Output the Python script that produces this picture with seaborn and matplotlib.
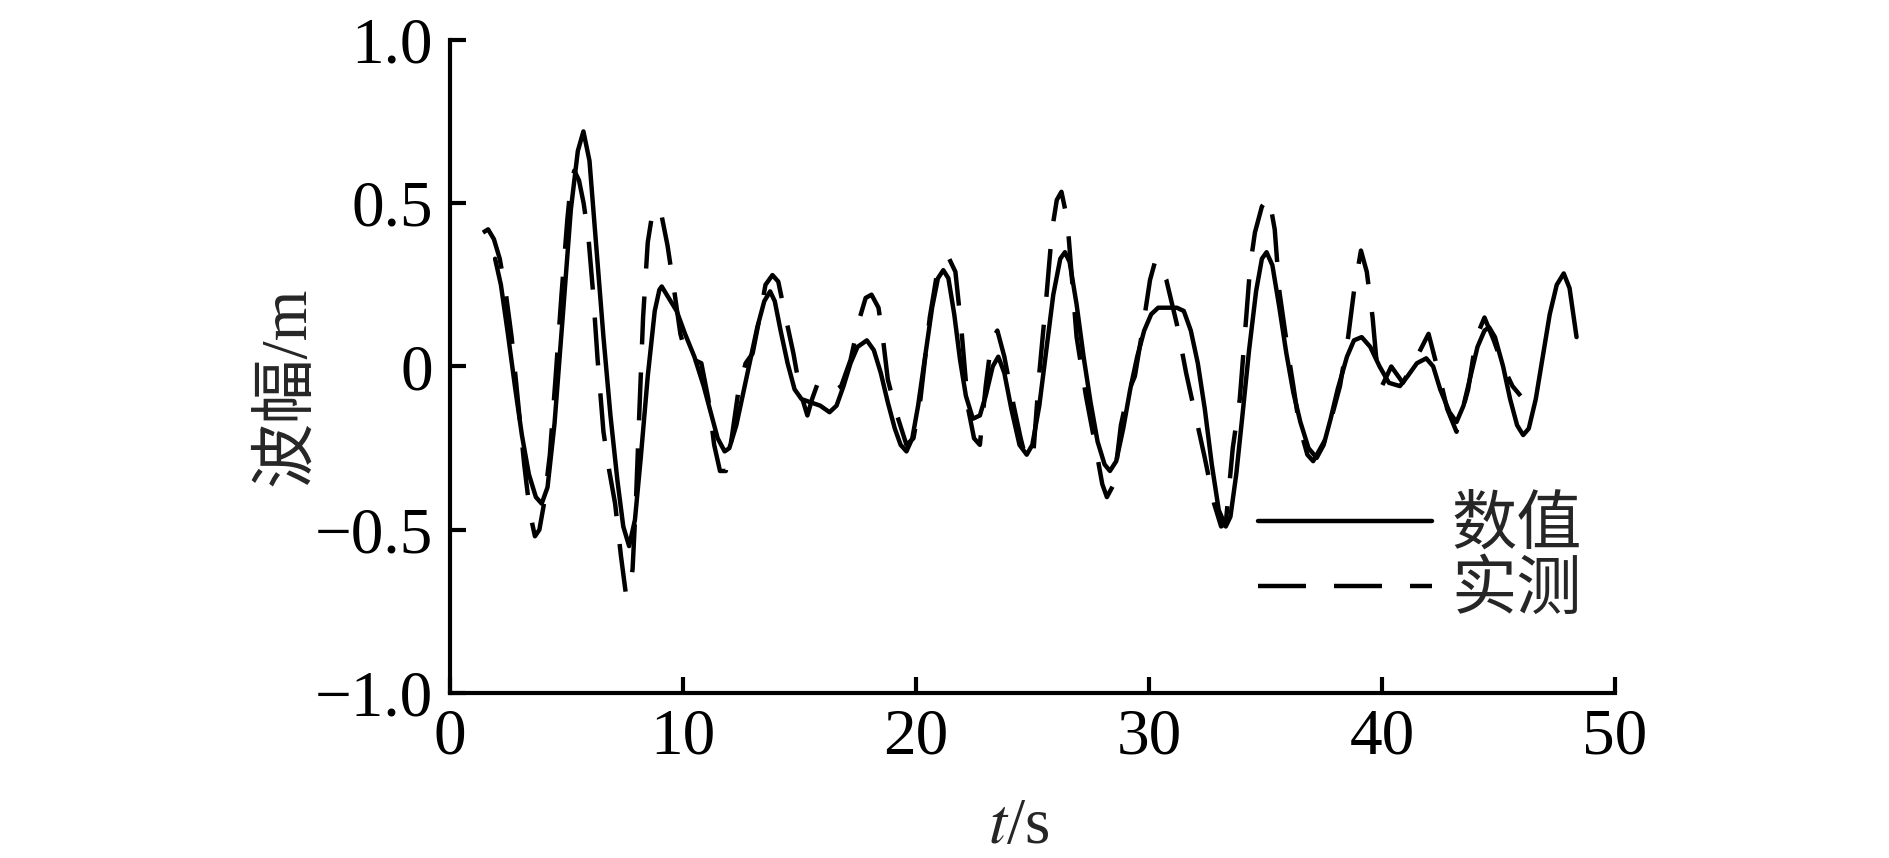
import matplotlib
matplotlib.use("Agg")
import matplotlib.pyplot as plt
import seaborn as sns
import pandas as pd
from matplotlib.lines import Line2D

# ---- data ----
num_t = [1.95, 2.2, 2.5, 2.8, 3.1, 3.4, 3.7, 3.95, 4.2, 4.5, 4.85, 5.2, 5.5, 5.74,
         6.0, 6.3, 6.6, 6.9, 7.2, 7.45, 7.7, 7.95, 8.2, 8.5, 8.8, 9.0, 9.1, 9.4, 9.74,
         10.1, 10.5, 10.9, 11.2, 11.5, 11.8, 12.0, 12.3, 12.6, 12.9, 13.2, 13.5, 13.75,
         13.95, 14.2, 14.5, 14.8, 15.1, 15.5, 15.9, 16.3, 16.6, 16.9, 17.2, 17.5, 17.9,
         18.2, 18.5, 18.8, 19.1, 19.35, 19.6, 19.85, 20.1, 20.4, 20.7, 20.95, 21.18,
         21.4, 21.65, 21.9, 22.15, 22.45, 22.75, 23.0, 23.3, 23.54, 23.8, 24.1, 24.45,
         24.76, 25.0, 25.3, 25.6, 25.9, 26.2, 26.4, 26.6, 26.9, 27.2, 27.5, 27.8, 28.1,
         28.33, 28.6, 28.9, 29.2, 29.5, 29.8, 30.1, 30.4, 30.8, 31.2, 31.5, 31.8, 32.1,
         32.4, 32.7, 33.0, 33.3, 33.5, 33.75, 34.0, 34.3, 34.6, 34.85, 35.05, 35.3, 35.6,
         35.9, 36.2, 36.5, 36.85, 37.2, 37.5, 37.8, 38.1, 38.5, 38.8, 39.13, 39.5, 39.9,
         40.3, 40.77, 41.1, 41.5, 41.9, 42.2, 42.5, 42.9, 43.2, 43.5, 43.8, 44.1, 44.4,
         44.6, 44.85, 45.2, 45.5, 45.8, 46.06, 46.3, 46.6, 46.9, 47.2, 47.5, 47.8, 48.05,
         48.35]
num_y = [0.33, 0.25, 0.10, -0.06, -0.21, -0.33, -0.40, -0.42, -0.37, -0.175, 0.15, 0.48, 0.66, 0.72,
         0.63, 0.36, 0.09, -0.15, -0.35, -0.49, -0.55, -0.47, -0.28, -0.03, 0.17, 0.235, 0.245, 0.21, 0.17,
         0.10, 0.03, -0.06, -0.14, -0.22, -0.26, -0.25, -0.18, -0.08, 0.02, 0.12, 0.20, 0.23,
         0.20, 0.11, 0.01, -0.07, -0.10, -0.11, -0.12, -0.14, -0.12, -0.06, 0.01, 0.06, 0.08,
         0.05, -0.02, -0.11, -0.19, -0.24, -0.26, -0.22, -0.12, 0.03, 0.18, 0.27, 0.295,
         0.27, 0.16, 0.02, -0.09, -0.16, -0.15, -0.09, 0.00, 0.03, -0.02, -0.13, -0.24,
         -0.27, -0.24, -0.12, 0.05, 0.22, 0.33, 0.35, 0.32, 0.19, 0.03, -0.11, -0.23, -0.30,
         -0.32, -0.29, -0.19, -0.07, 0.03, 0.11, 0.16, 0.18, 0.18, 0.18, 0.17, 0.11, 0.01,
         -0.13, -0.30, -0.44, -0.49, -0.46, -0.33, -0.16, 0.05, 0.23, 0.33, 0.35, 0.31, 0.18,
         0.04, -0.08, -0.17, -0.25, -0.28, -0.24, -0.16, -0.07, 0.03, 0.08, 0.09, 0.06, 0.00,
         -0.05, -0.06, -0.03, 0.01, 0.025, 0.0, -0.07, -0.14, -0.17, -0.12, -0.03, 0.06, 0.11,
         0.12, 0.09, 0.0, -0.10, -0.18, -0.21, -0.19, -0.10, 0.03, 0.16, 0.25, 0.285, 0.24,
         0.09]

mea_t = [1.43, 1.65, 1.9, 2.15, 2.4, 2.66, 2.95, 3.2, 3.45, 3.66, 3.85, 4.05, 4.3, 4.55, 4.8,
         5.05, 5.2, 5.35, 5.55, 5.75, 5.95, 6.15, 6.35, 6.6, 6.85, 7.1, 7.35, 7.55, 7.7, 7.85,
         8.0, 8.15, 8.3, 8.5, 8.7, 8.9, 9.1, 9.35, 9.6, 9.9, 10.2, 10.5, 10.8, 11.1, 11.35,
         11.6, 11.85, 12.1, 12.4, 12.7, 13.0, 13.3, 13.55, 13.85, 14.1, 14.45, 14.75, 15.05,
         15.35, 15.55, 15.8, 16.1, 16.4, 16.8, 17.2, 17.6, 17.85, 18.1, 18.4, 18.6, 18.8,
         19.2, 19.6, 19.9, 20.2, 20.6, 20.9, 21.15, 21.4, 21.7, 21.95, 22.25, 22.5, 22.75,
         23.0, 23.25, 23.5, 23.8, 24.2, 24.5, 24.75, 25.05, 25.3, 25.6, 25.85, 26.05, 26.25,
         26.5, 26.9, 27.3, 27.75, 28.0, 28.2, 28.5, 28.8, 29.1, 29.4, 29.7, 30.05, 30.3,
         30.75, 31.2, 31.6, 32.0, 32.4, 32.8, 33.1, 33.3, 33.6, 33.9, 34.1, 34.35, 34.55,
         34.85, 35.15, 35.4, 35.6, 36.0, 36.2, 36.45, 36.8, 37.05, 37.6, 38.2, 38.55, 38.8,
         39.1, 39.35, 39.6, 39.75, 40.0, 40.4, 40.9, 41.5, 42.0, 42.4, 42.8, 43.2, 43.7,
         44.05, 44.4, 44.8, 45.2, 45.6, 45.95]
mea_y = [0.41, 0.42, 0.39, 0.33, 0.23, 0.09, -0.12, -0.30, -0.45, -0.52, -0.50, -0.42, -0.27, -0.03, 0.22,
         0.45, 0.56, 0.60, 0.57, 0.50, 0.40, 0.23, 0.02, -0.20, -0.32, -0.42, -0.58, -0.69, -0.70, -0.62,
         -0.40, -0.12, 0.15, 0.38, 0.47, 0.49, 0.46, 0.37, 0.25, 0.10, 0.02, 0.02, 0.01, -0.10, -0.24,
         -0.32, -0.32, -0.22, -0.07, 0.01, 0.04, 0.15, 0.25, 0.28, 0.26, 0.14, 0.04, -0.08,
         -0.15, -0.10, -0.05, -0.06, -0.08, -0.06, 0.02, 0.15, 0.21, 0.22, 0.18, 0.08, -0.04,
         -0.15, -0.24, -0.22, -0.10, 0.15, 0.28, 0.325, 0.335, 0.29, 0.12, -0.13, -0.22, -0.24,
         -0.06, 0.08, 0.11, 0.03, -0.12, -0.22, -0.29, -0.26, -0.02, 0.21, 0.42, 0.51, 0.535,
         0.45, 0.09, -0.09, -0.26, -0.36, -0.40, -0.36, -0.18, -0.08, -0.03, 0.10, 0.265, 0.33,
         0.265, 0.13, -0.02, -0.15, -0.28, -0.42, -0.49, -0.48, -0.25, -0.10, 0.08, 0.31, 0.41,
         0.49, 0.52, 0.42, 0.23, 0.03, -0.06, -0.18, -0.27, -0.29, -0.22, -0.06, 0.09, 0.23,
         0.355, 0.29, 0.15, 0.03, -0.06, 0.0, -0.05, 0.03, 0.10, -0.01, -0.13, -0.20, -0.07,
         0.09, 0.15, 0.08, 0.0, -0.06, -0.09]

labels = ["数值", "实测"]
x_ticks = [0, 10, 20, 30, 40, 50]
y_ticks = [-1.0, -0.5, 0, 0.5, 1.0]
y_ticklabels = ["\u22121.0", "\u22120.5", "0", "0.5", "1.0"]
xlabel = "$t$/s"
ylabel = "波幅/m"

# ---- style ----
sns.set_style("ticks")
plt.rcParams["font.family"] = ["Liberation Serif", "Noto Sans CJK SC"]
plt.rcParams["mathtext.fontset"] = "stix"
plt.rcParams["axes.unicode_minus"] = True

FS = 47
LW = 3.2
DASH = (0, (10.8, 6.3))

fig = plt.figure(figsize=(18.9, 8.58), dpi=100)
ax = fig.add_axes([0.2379, 0.1923, 0.6166, 0.7611])

df_num = pd.DataFrame({"t": num_t, "y": num_y})
df_mea = pd.DataFrame({"t": mea_t, "y": mea_y})

sns.lineplot(data=df_num, x="t", y="y", ax=ax, color="black", lw=LW,
             estimator=None, sort=False, linestyle="-")
sns.lineplot(data=df_mea, x="t", y="y", ax=ax, color="black", lw=LW,
             estimator=None, sort=False, linestyle=DASH)

ax.set_xlim(0, 50)
ax.set_ylim(-1.0, 1.0)
ax.set_xticks(x_ticks)
ax.set_xticklabels([str(v) for v in x_ticks])
ax.set_yticks(y_ticks)
ax.set_yticklabels(y_ticklabels)

for s in ["top", "right"]:
    ax.spines[s].set_visible(False)
for s in ["left", "bottom"]:
    ax.spines[s].set_linewidth(3.0)
    ax.spines[s].set_color("black")

ax.tick_params(axis="both", direction="in", length=11.5, width=3.0,
               labelsize=FS, colors="black")
ax.tick_params(axis="x", pad=11)
ax.tick_params(axis="y", pad=12)

ax.set_xlabel(xlabel, fontsize=FS, va="center")
ax.xaxis.set_label_coords(0.488, -0.205)
ax.set_ylabel(ylabel, fontsize=FS, va="center")
ax.yaxis.set_label_coords(-0.139, 0.47)

handles = [Line2D([], [], color="black", lw=LW, linestyle="-"),
           Line2D([], [], color="black", lw=LW, linestyle=DASH)]
leg = ax.legend(handles, labels, loc="upper left",
                bbox_to_anchor=(1258 / 1890, 1 - 497 / 858),
                bbox_transform=fig.transFigure,
                frameon=False, fontsize=FS, handlelength=2.66,
                handletextpad=0.3, labelspacing=0.08, borderpad=0,
                borderaxespad=0)

ax.set_facecolor("white")
fig.patch.set_facecolor("white")
fig.savefig("out.png", dpi=100, facecolor="white")
